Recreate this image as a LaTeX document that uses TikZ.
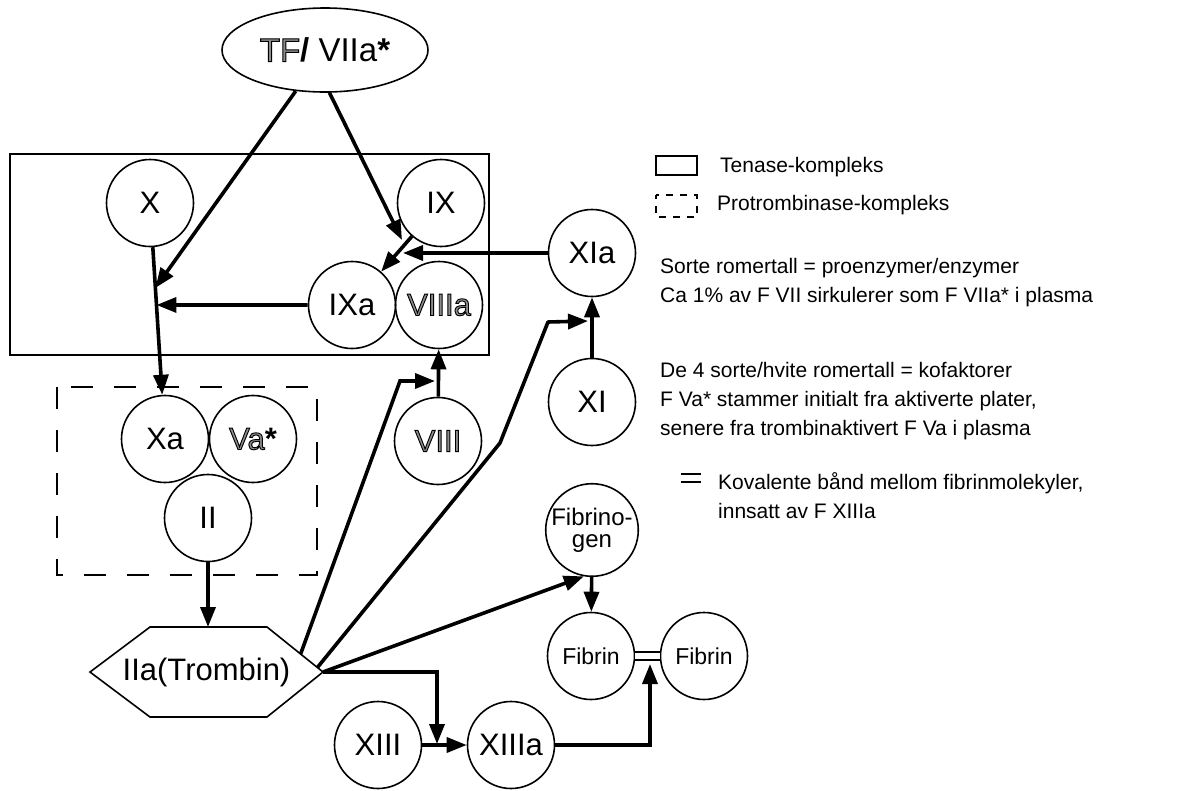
\documentclass[tikz,border=0pt]{standalone}
\usepackage{fontspec}
\setmainfont{Liberation Sans}
\newfontfamily\hollowfont[FakeBold=3]{Liberation Sans}
\usetikzlibrary{arrows.meta,calc,shapes.geometric}
\newcommand\holl[1]{{\hollowfont\special{pdf:literal direct 0.55 g}#1\special{pdf:literal direct 0 g}}}
\tikzset{
  circ/.style={circle, draw, line width=1.6pt, minimum size=87pt, inner sep=0pt,
    font=\fontsize{31}{34}\selectfont},
  smallcirc/.style={circ, font=\fontsize{23}{22}\selectfont, align=center},
  arr/.style={line width=3.6pt, -{Triangle[length=20pt,width=15pt]}},
  legtxt/.style={anchor=base west, inner sep=0pt, font=\fontsize{21}{29}\selectfont},
  boxline/.style={line width=1.8pt}
}
\begin{document}
\begin{tikzpicture}[x=1pt,y=-1pt]
\useasboundingbox (0,0) rectangle (1194,790);
% complexes
\draw[boxline] (10,154) rectangle (489,355);
\draw[boxline, dash pattern=on 22pt off 21pt] (57,387) rectangle (317,575);
% nodes
\node[ellipse, draw, line width=1.6pt, minimum width=206pt, minimum height=84pt, inner sep=0pt,
  font=\fontsize{33}{36}\selectfont] (tf) at (325,50) {\holl{TF}{\bfseries /} VIIa{\bfseries *}};
\node[circ] (x) at (150,203) {X};
\node[circ] (ix) at (441,203) {IX};
\node[circ] (ixa) at (352,305) {IXa};
\node[circ] (viiia) at (439,305) {\holl{VIIIa}};
\node[circ] (xia) at (592,253) {XIa};
\node[circ] (xi) at (592,402) {XI};
\node[circ] (xa) at (165,439) {Xa};
\node[circ] (va) at (253,439) {\holl{Va}{\bfseries *}};
\node[circ] (ii) at (208,518) {II};
\node[circ] (viii) at (438,441) {\holl{VIII}};
\node[circ, font=\fontsize{24}{22}\selectfont, align=center] (fgen) at (592,530) {Fibrino-\\gen};
\node[smallcirc] (fib1) at (591,656) {Fibrin};
\node[smallcirc] (fib2) at (704,656) {Fibrin};
\node[circ] (xiii) at (378,745) {XIII};
\node[circ] (xiiia) at (511,745) {XIIIa};
% thrombin hexagon
\node[minimum width=233pt, minimum height=90pt, inner sep=0pt, outer sep=0pt,
  font=\fontsize{31}{34}\selectfont] (iia) at (206.5,672) {IIa(Trombin)};
\draw[line width=1.6pt, line join=miter] (iia.west) -- ($(iia.north west)+(60,0)$)
  -- ($(iia.north east)+(-56,0)$) -- (iia.east) -- ($(iia.south east)+(-56,0)$)
  -- ($(iia.south west)+(60,0)$) -- cycle;
% helper coordinates
\coordinate (j1) at ($(x)!0.36!(xa)$);
\coordinate (j3) at ($(x)!0.432!(xa)$);
\coordinate (j2a) at (402,240);
\coordinate (j2b) at (403,253);
\coordinate (s1) at ($($(iia.north east)+(-56,0)$)!0.6!(iia.east)$);
\coordinate (s2) at ($($(iia.north east)+(-56,0)$)!0.9!(iia.east)$);
\coordinate (b1) at (400,381);
\coordinate (j4) at (435,381);
\coordinate (b2) at (500,443);
\coordinate (b3) at (548,322);
\coordinate (j5) at (588,321);
\coordinate (j7) at (437,744);
\coordinate (j8) at (650,664);
% connectors
\draw[arr] (x) -- (xa);
\draw[arr] (tf) -- (j1);
\draw[arr] (tf.-84) -- (j2a);
\draw[arr] (ix) -- (ixa);
\draw[arr] (xia) -- (j2b);
\draw[arr] (ixa) -- (j3);
\draw[arr] (ii) -- (ii |- iia.north);
\draw[arr] (viii) -- (viiia);
\draw[arr] (xi) -- (xia);
\draw[arr] (s1) -- (b1) -- (j4);
\draw[arr, line join=round] (s2) -- (b2) -- (b3) -- (j5);
\draw[arr] (iia.east) -- (fgen.-100);
\draw[arr] (fgen) -- (fib1);
\draw[arr] (iia.east) -| (j7);
\draw[arr] (xiii) -- (xiiia);
\draw[arr] (xiiia.east) -| (j8);
\draw[line width=1.5pt, double, double distance=6.5pt] (fib1) -- (fib2);
% legend
\draw[line width=1.4pt] (656,156) rectangle (697,175);
\draw[line width=1.4pt, dash pattern=on 7pt off 7pt, dash phase=3pt] (656,195) rectangle (697,217);
\node[legtxt] (l1) at (720,172) {Tenase-kompleks};
\node[legtxt] (l2) at (717,210) {Protrombinase-kompleks};
\node[legtxt] (l3) at (660,273) {Sorte romertall = proenzymer/enzymer};
\node[legtxt] (l4) at (660,302) {Ca 1\% av F VII sirkulerer som F VIIa* i plasma};
\node[legtxt] (l5) at (660,377) {De 4 sorte/hvite romertall = kofaktorer};
\node[legtxt] (l6) at (660,406) {F Va* stammer initialt fra aktiverte plater,};
\node[legtxt] (l7) at (660,435) {senere fra trombinaktivert F Va i plasma};
\draw[line width=2pt] (681,474) -- (701,474) (681,482) -- (701,482);
\node[legtxt] (l8) at (718,489) {Kovalente bånd mellom fibrinmolekyler,};
\node[legtxt] (l9) at (718,518) {innsatt av F XIIIa};
\end{tikzpicture}
\end{document}
